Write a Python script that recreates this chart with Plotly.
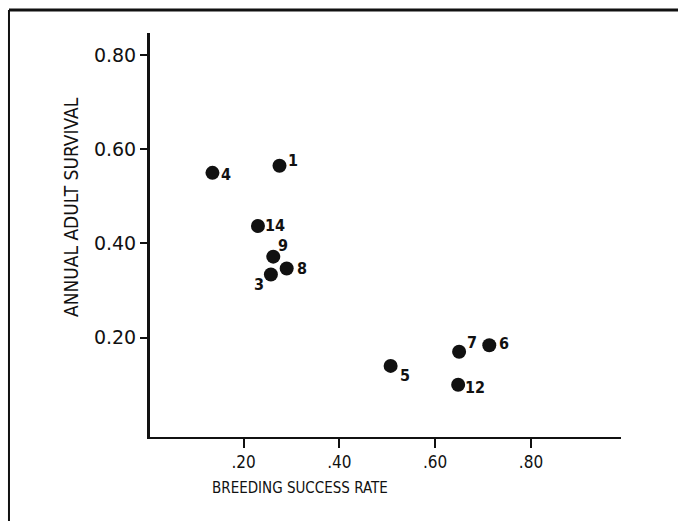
import plotly.graph_objects as go

# Colony identifiers and their demographic rates
colony_ids = ["1", "3", "4", "5", "6", "7", "8", "9", "12", "14"]
breeding_success = [0.275, 0.257, 0.135, 0.507, 0.713, 0.650, 0.290, 0.262, 0.648, 0.230]
adult_survival = [0.565, 0.334, 0.550, 0.140, 0.184, 0.170, 0.347, 0.372, 0.100, 0.437]

x_tick_values = [0.2, 0.4, 0.6, 0.8]
x_tick_labels = [".20", ".40", ".60", ".80"]
y_tick_values = [0.2, 0.4, 0.6, 0.8]
y_tick_labels = ["0.20", "0.40", "0.60", "0.80"]

# Pixel offsets of each point label from its marker (right, down)
label_offsets = {
    "1": (13, -5), "3": (-12, 10), "4": (14, 2), "5": (14, 10), "6": (15, -2),
    "7": (13, -9), "8": (15, 0), "9": (10, -11), "12": (17, 3), "14": (17, -1),
}

INK = "#111111"
COND = "DejaVu Sans Condensed, Liberation Sans Narrow, DejaVu Sans, sans-serif"
SANS = "DejaVu Sans, sans-serif"

fig = go.Figure()
fig.add_trace(go.Scatter(
    x=breeding_success, y=adult_survival, mode="markers",
    marker=dict(size=14, color=INK, line=dict(width=0)),
    hoverinfo="skip", showlegend=False,
))

for cid, xv, yv in zip(colony_ids, breeding_success, adult_survival):
    dx, dy = label_offsets[cid]
    fig.add_annotation(
        x=xv, y=yv, text=cid, showarrow=False, xshift=dx, yshift=-dy,
        font=dict(family=COND, size=16, color=INK, weight="bold"),
    )

# Axis titles
fig.add_annotation(
    xref="paper", yref="paper", x=0.318, y=-0.126, text="BREEDING SUCCESS RATE",
    showarrow=False, xanchor="center", yanchor="middle",
    font=dict(family=COND, size=15, color=INK),
)
fig.add_annotation(
    xref="paper", yref="paper", x=-0.168, y=0.569, text="ANNUAL ADULT SURVIVAL",
    showarrow=False, textangle=-90, xanchor="center", yanchor="middle",
    font=dict(family=COND, size=19, color=INK),
)

# Outer frame lines (top and left)
fig.add_shape(type="line", xref="paper", yref="paper", x0=-0.2994, x1=1.2, y0=1.0569, y1=1.0569,
              line=dict(color=INK, width=3))
fig.add_shape(type="line", xref="paper", yref="paper", x0=-0.2994, x1=-0.2994, y0=1.0569, y1=-0.25,
              line=dict(color=INK, width=2))

fig.update_xaxes(
    range=[0.0046, 0.988], showgrid=False, zeroline=False,
    showline=True, linecolor=INK, linewidth=2,
    ticks="outside", ticklen=9, tickwidth=2, tickcolor=INK,
    tickvals=x_tick_values, ticktext=x_tick_labels,
    tickfont=dict(family=COND, size=17, color=INK),
)
fig.update_yaxes(
    range=[-0.011, 0.847], showgrid=False, zeroline=False,
    showline=True, linecolor=INK, linewidth=3,
    ticks="outside", ticklen=7, tickwidth=2, tickcolor=INK,
    tickvals=y_tick_values, ticktext=y_tick_labels,
    tickfont=dict(family=SANS, size=19, color=INK),
)

fig.update_layout(
    width=678, height=521,
    margin=dict(l=150, r=57, t=33, b=84, pad=0),
    paper_bgcolor="white", plot_bgcolor="white",
)

fig.write_html("out.html")
